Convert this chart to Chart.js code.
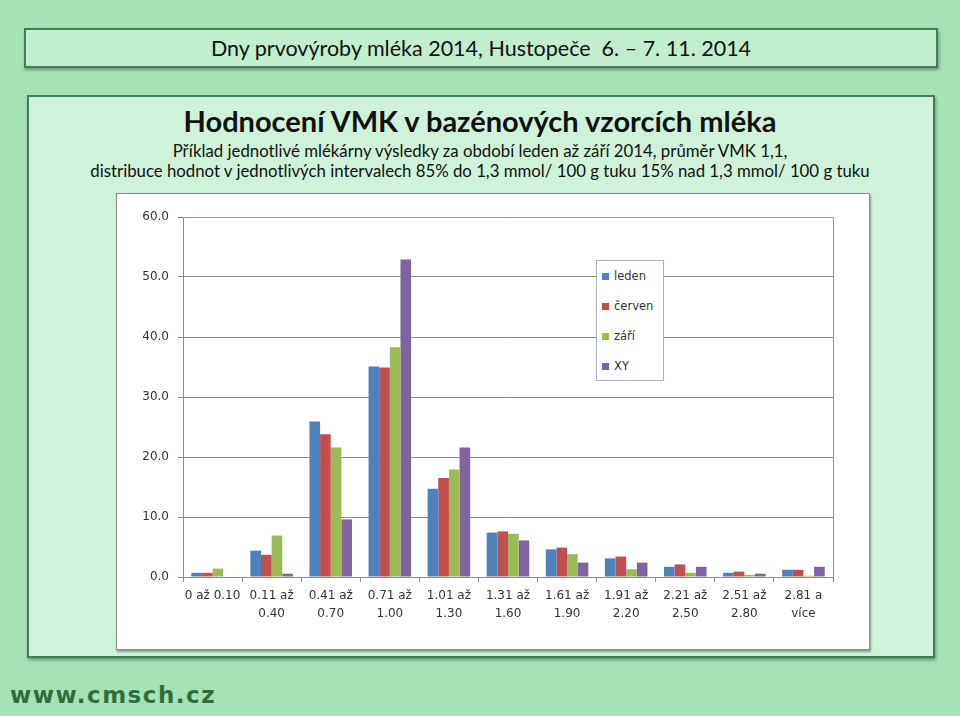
<!DOCTYPE html>
<html><head><meta charset="utf-8">
<script src="https://cdn.jsdelivr.net/npm/chart.js@4"></script>
<style>
html,body{margin:0;padding:0;}
body{width:960px;height:716px;background:#a3e3b5;position:relative;overflow:hidden;font-family:Lato,"Open Sans",sans-serif;color:#111;}
#hdr{position:absolute;left:24px;top:28px;width:910px;height:36px;border:2px solid #3d7f57;background:#c2eecf;text-align:center;line-height:37px;font-size:21.5px;box-shadow:1px 2px 3px rgba(0,0,0,0.35);}
#main{position:absolute;left:27px;top:95px;width:904px;height:559px;border:2px solid #3d7f57;background:#d0f2da;box-shadow:1px 2px 3px rgba(0,0,0,0.35);}
#title{position:absolute;left:0;width:960px;top:103px;text-align:center;font-weight:bold;font-size:29px;line-height:36px;}
#sub{position:absolute;left:0;width:960px;top:141px;text-align:center;font-size:16.8px;line-height:20px;}
#box{position:absolute;left:116px;top:193px;width:752px;height:455px;background:#fff;border:1px solid #8a8a8a;box-shadow:1px 2px 2px rgba(0,0,0,0.35);}
#box canvas{position:absolute;left:0;top:0;}
#legend{position:absolute;left:596px;top:260px;width:66px;height:119px;border:1px solid #a6b3c8;background:#fff;font-family:"DejaVu Sans",sans-serif;font-size:11.5px;color:#333;}
.li{position:absolute;left:5px;height:14px;line-height:14px;white-space:nowrap;}
.li span{display:inline-block;width:7px;height:7px;margin-right:5px;vertical-align:0px;}
#www{position:absolute;left:10px;top:682px;font-family:"DejaVu Sans",sans-serif;font-size:23px;font-weight:bold;color:#2f6e3c;letter-spacing:1.5px;}
</style></head><body>
<div id="hdr">Dny prvovýroby mléka 2014, Hustopeče&nbsp; 6. – 7. 11. 2014</div>
<div id="main"></div>
<div id="title">Hodnocení VMK v bazénových vzorcích mléka</div>
<div id="sub">Příklad jednotlivé mlékárny výsledky za období leden až září 2014, průměr VMK 1,1,<br>distribuce hodnot v jednotlivých intervalech 85% do 1,3 mmol/ 100 g tuku 15% nad 1,3 mmol/ 100 g tuku</div>
<div id="box"><canvas id="c" width="752" height="455"></canvas></div>
<div id="legend"></div>
<div id="www">www.cmsch.cz</div>
<script>
const categories = [["0 až 0.10"],["0.11 až","0.40"],["0.41 až","0.70"],["0.71 až","1.00"],["1.01 až","1.30"],["1.31 až","1.60"],["1.61 až","1.90"],["1.91 až","2.20"],["2.21 až","2.50"],["2.51 až","2.80"],["2.81 a","více"]];
const seriesNames = ["leden","červen","září","XY"];
const seriesColors = ["#4F81BD","#C0504D","#9BBB59","#8064A2"];
const leden  = [0.7, 4.4, 25.9, 35.1, 14.7, 7.4, 4.6, 3.1, 1.7, 0.7, 1.2];
const cerven = [0.7, 3.7, 23.8, 34.9, 16.5, 7.6, 4.9, 3.4, 2.1, 0.9, 1.2];
const zari   = [1.4, 6.9, 21.6, 38.3, 17.9, 7.2, 3.8, 1.3, 0.7, 0.35, 0.2];
const xy     = [0.0, 0.55, 9.6, 52.9, 21.6, 6.1, 2.4, 2.4, 1.7, 0.55, 1.7];
const yTicks = [0,10,20,30,40,50,60];
const values = [leden, cerven, zari, xy];

const borderPlugin = {
  id:'plotBorder',
  afterDraw(chart){
    const {ctx, chartArea:a} = chart;
    ctx.save();
    ctx.strokeStyle = '#7f9fcc';
    ctx.lineWidth = 1;
    ctx.beginPath();
    ctx.moveTo(a.left, a.top+0.5); ctx.lineTo(a.right+0.5, a.top+0.5); ctx.lineTo(a.right+0.5, a.bottom);
    ctx.stroke();
    ctx.restore();
  }
};

new Chart(document.getElementById('c'), {
  type:'bar',
  data:{
    labels: categories,
    datasets: seriesNames.map((n,i)=>({label:n, data:values[i], backgroundColor:seriesColors[i], borderWidth:0, barPercentage:1.0, categoryPercentage:0.72}))
  },
  options:{
    responsive:false, animation:false,
    layout:{padding:{left:0,right:36,top:23,bottom:0}},
    plugins:{legend:{display:false}, tooltip:{enabled:false}},
    scales:{
      x:{
        grid:{display:true, drawOnChartArea:false, drawTicks:true, tickLength:5, color:'#8c8c8c', offset:true},
        border:{display:true, color:'#8c8c8c'},
        ticks:{color:'#333', font:{family:'DejaVu Sans', size:12, lineHeight:1.5}, padding:5, maxRotation:0, autoSkip:false},
        afterFit(s){ s.height = 72; }
      },
      y:{
        min:0, max:60,
        afterBuildTicks(s){ s.ticks = yTicks.map(v=>({value:v})); },
        grid:{color:'#8c8c8c', tickLength:5},
        border:{display:true, color:'#8c8c8c'},
        ticks:{color:'#333', font:{family:'DejaVu Sans', size:12}, padding:9, callback:v=>Number(v).toFixed(1)},
        afterFit(s){ s.width = 66; }
      }
    }
  },
  plugins:[borderPlugin]
});

const lg = document.getElementById('legend');
seriesNames.forEach((n,i)=>{
  const d = document.createElement('div');
  d.className='li';
  d.style.top = (8 + i*30) + 'px';
  d.innerHTML = '<span style="background:'+seriesColors[i]+'"></span>'+n;
  lg.appendChild(d);
});
</script>
</body></html>
